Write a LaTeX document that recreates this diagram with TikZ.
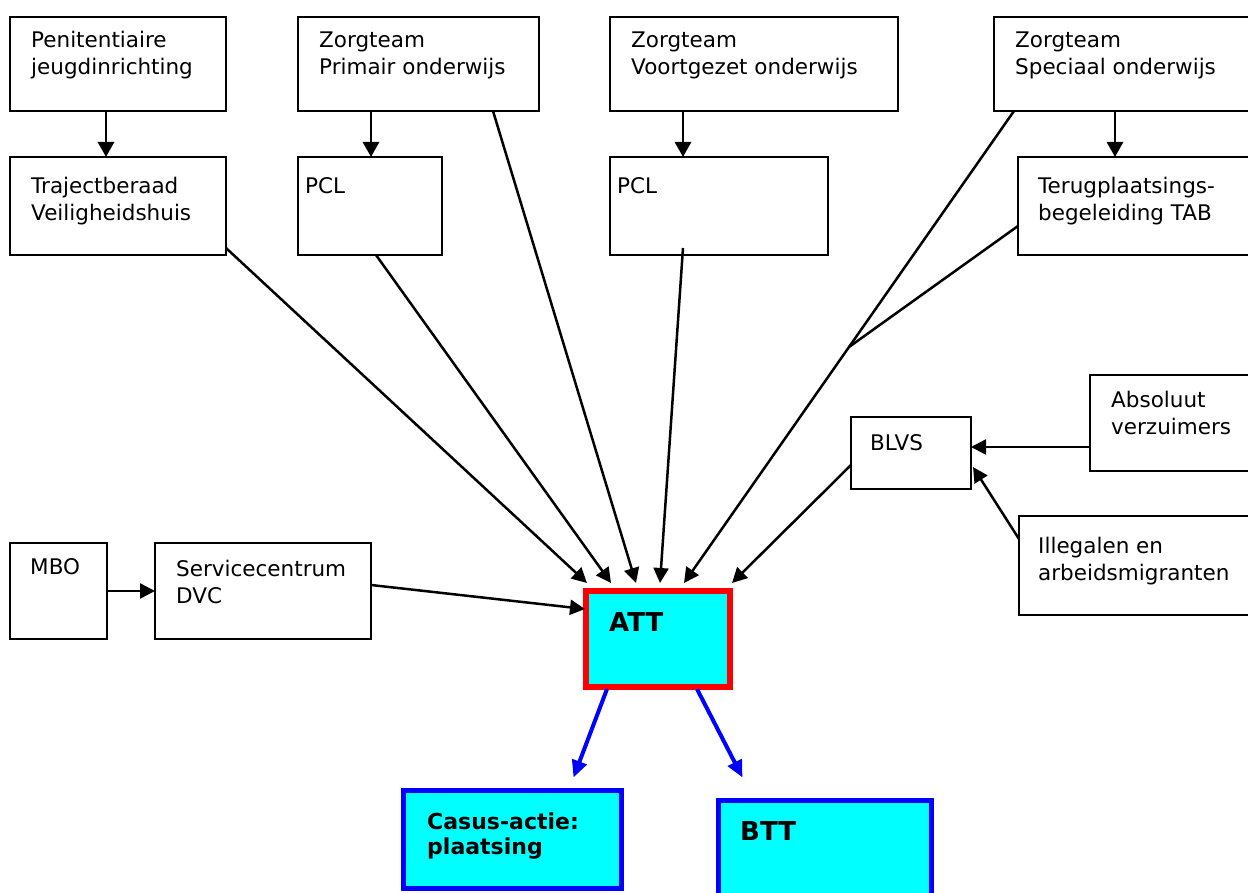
\documentclass[tikz,border=0pt]{standalone}
\usepackage{fontspec}
\setmainfont{DejaVu Sans}
\usetikzlibrary{arrows.meta,calc}
\definecolor{cyanfill}{RGB}{0,255,255}
\definecolor{attred}{RGB}{255,0,0}
\definecolor{pureblue}{RGB}{0,0,255}
\newcommand\bx[6][box]{\node[#1, minimum width={#5-#3}, minimum height={#6-#4}] (#2) at ({(#3+#5)/2},{(#4+#6)/2}) {};}
\begin{document}
\begin{tikzpicture}[x=1pt,y=-1pt,
  box/.style={draw=black, line width=2pt, rectangle, inner sep=0pt, outer sep=0pt},
  attbox/.style={draw=attred, fill=cyanfill, line width=5.5pt, rectangle, inner sep=0pt, outer sep=0pt},
  bluebox/.style={draw=pureblue, fill=cyanfill, line width=5pt, rectangle, inner sep=0pt, outer sep=0pt},
  txt/.style={anchor=north west, inner sep=0pt, align=left, font=\fontsize{21.5}{27}\selectfont},
  bigtxt/.style={anchor=north west, inner sep=0pt, align=left, font=\fontsize{26}{31}\selectfont\bfseries},
  midtxt/.style={anchor=north west, inner sep=0pt, align=left, font=\fontsize{22}{25}\selectfont\bfseries},
  arr/.style={draw=black, line width=2.5pt, -{Triangle[length=15pt,width=15pt]}},
  varr/.style={draw=black, line width=2.8pt, -{Triangle[length=15pt,width=16pt]}},
  plain/.style={draw=black, line width=2.5pt},
  barr/.style={draw=pureblue, line width=4pt, -{Triangle[length=17pt,width=15pt]}}]
\useasboundingbox (0,0) rectangle (1248,893);
% boxes
\bx{pen}{10}{17}{226}{111}
\bx{zpo}{298}{17}{539}{111}
\bx{zvo}{610}{17}{898}{111}
\bx{zso}{994}{17}{1252}{111}
\bx{trj}{10}{157}{226}{255}
\bx{pcla}{298}{157}{442}{255}
\bx{pclb}{610}{157}{828}{255}
\bx{tab}{1018}{157}{1252}{255}
\bx{abs}{1090}{375}{1252}{471}
\bx{blvs}{851}{417}{971}{489}
\bx{ill}{1019}{516}{1252}{615}
\bx{mbo}{10}{543}{107}{639}
\bx{svc}{155}{543}{371}{639}
\bx[attbox]{att}{586}{591}{730}{687}
\bx[bluebox]{cas}{403.5}{790.5}{621.5}{888.5}
\bx[bluebox]{btt}{718.5}{800.5}{931.5}{910}
% texts
\node[txt] (pen-t) at (31,28.1) {\strut Penitentiaire\\jeugdinrichting};
\node[txt] (zpo-t) at (319,28.1) {\strut Zorgteam\\Primair onderwijs};
\node[txt] (zvo-t) at (631,28.1) {\strut Zorgteam\\Voortgezet onderwijs};
\node[txt] (zso-t) at (1015,28.1) {\strut Zorgteam\\Speciaal onderwijs};
\node[txt] (trj-t) at (31,174.1) {\strut Trajectberaad\\Veiligheidshuis};
\node[txt] (pcla-t) at (305,174.1) {\strut PCL};
\node[txt] (pclb-t) at (617,174.1) {\strut PCL};
\node[txt] (tab-t) at (1038,174.1) {\strut Terugplaatsings-\\begeleiding TAB};
\node[txt] (abs-t) at (1111,388.1) {\strut Absoluut\\verzuimers};
\node[txt] (blvs-t) at (870,431.1) {\strut BLVS};
\node[txt] (ill-t) at (1038,534.1) {\strut Illegalen en\\arbeidsmigranten};
\node[txt] (mbo-t) at (30,555.1) {\strut MBO};
\node[txt] (svc-t) at (176,557.1) {\strut Servicecentrum\\DVC};
\node[bigtxt] (att-t) at (609,609.3) {\strut ATT};
\node[midtxt] (cas-t) at (427,811.5) {\strut Casus-actie:\\plaatsing};
\node[bigtxt] (btt-t) at (740,818.3) {\strut BTT};
% vertical arrows
\draw[varr] ([xshift=96pt]pen.south west) -- ([xshift=96pt]trj.north west);
\draw[varr] ([xshift=73pt]zpo.south west) -- ([xshift=73pt]pcla.north west);
\draw[varr] ([xshift=73pt]zvo.south west) -- ([xshift=73pt]pclb.north west);
\draw[varr] ([xshift=121pt]zso.south west) -- ([xshift=97pt]tab.north west);
% arrows into ATT
\draw[arr] ($(trj.south east)+(0,-7)$) -- ($(att.north west)+(1,-8)$);
\draw[arr] ($(pcla.south)+(6,0)$) -- ($(att.north west)+(25,-8)$);
\draw[arr] ($(zpo.south west)+(195,0)$) -- ($(att.north west)+(50,-8)$);
\draw[arr] ($(pclb.south west)+(73,-7)$) -- ($(att.north west)+(74,-8)$);
\coordinate (zsoout) at ($(zso.south west)+(20,0)$);
\coordinate (attin) at ($(att.north west)+(98,-8)$);
\coordinate (jn) at ($(zsoout)!0.5!(attin)$);
\draw[arr] (zsoout) -- (attin);
\draw[plain] ($(tab.south west)+(0,-29)$) -- (jn);
\draw[arr] ($(blvs.south west)+(0,-24)$) -- ($(att.north west)+(146,-8)$);
\draw[arr] ($(svc.east)+(0,-6)$) -- ($(att.north west)+(-1,18)$);
\draw[arr] (mbo.east) -- (svc.west);
% into BLVS
\draw[arr] ($(abs.west)+(0,24)$) -- ($(blvs.east)+(0,-6)$);
\draw[arr] ($(ill.north west)+(0,23)$) -- ($(blvs.east)+(2,14)$);
% out of ATT
\draw[barr] ($(att.south west)+(21,2)$) -- ($(cas.north west)+(170,-13)$);
\draw[barr] ($(att.south west)+(111,2)$) -- ($(btt.north west)+(24,-23)$);
\end{tikzpicture}
\end{document}
